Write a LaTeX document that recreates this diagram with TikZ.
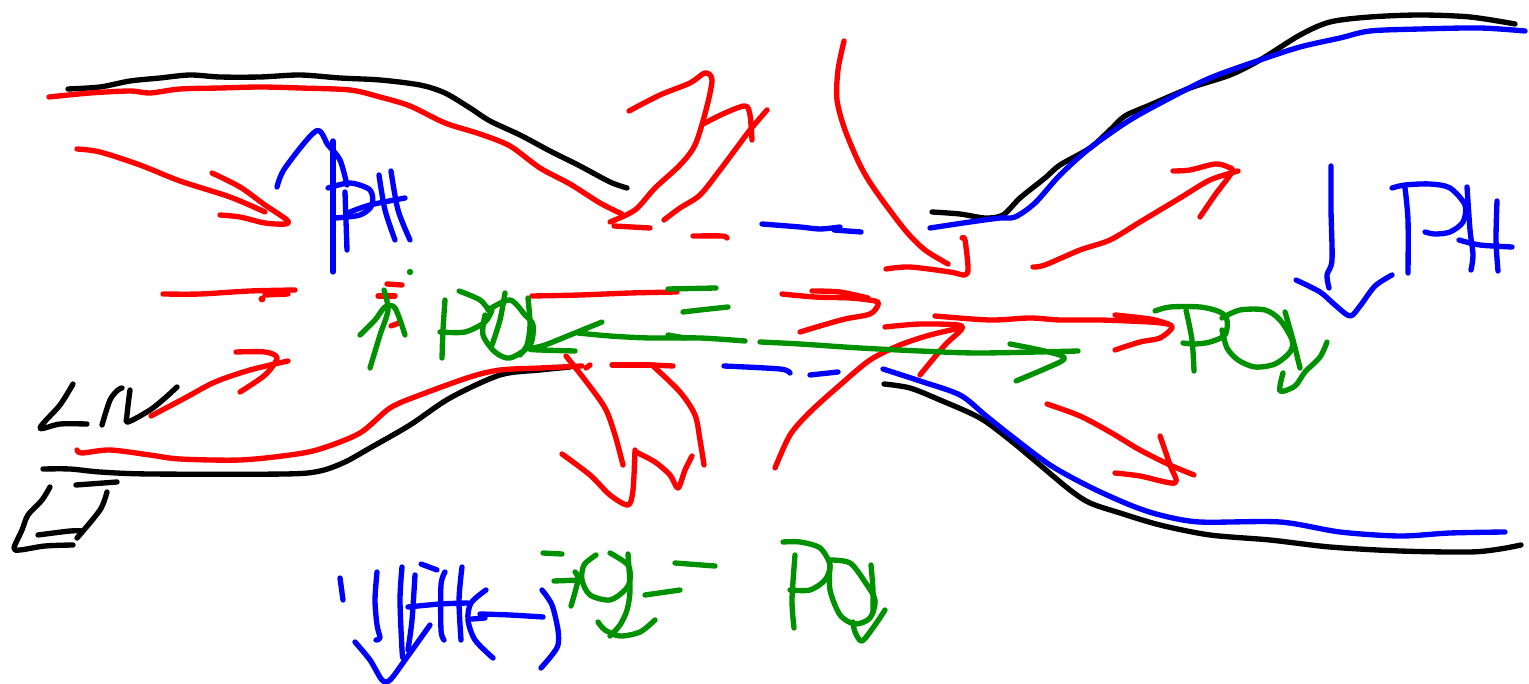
\documentclass[tikz,border=0pt]{standalone}
\definecolor{inkred}{RGB}{255,0,0}
\definecolor{inkblue}{RGB}{0,0,255}
\definecolor{inkgreen}{RGB}{0,145,0}
\newcommand{\stroke}[2]{\draw[#1] plot[smooth,tension=0.5] coordinates {#2};}
\tikzset{ink/.style={line width=4pt,line cap=round,line join=round},
 bk/.style={ink,black}, rd/.style={ink,inkred}, bl/.style={ink,inkblue}, gr/.style={ink,inkgreen}}
\begin{document}
\begin{tikzpicture}[x=0.75pt,y=-0.75pt]
\useasboundingbox (0,0) rectangle (1529,684);
\fill[white] (0,0) rectangle (1529,684);
% black channel walls and letters
\stroke{bk}{(68,89)(100,87)(130,81)(160,78)(190,75)(220,77)(260,77)(300,75)(340,78)(380,80)(420,85)(445,93)(470,108)(490,121)(520,135)(550,151)(580,166)(610,182)(627,188)}
\stroke{bk}{(932,212)(960,214)(985,218)(1003,215)(1020,198)(1045,178)(1060,165)(1090,148)(1110,130)(1125,116)(1150,105)(1190,88)(1230,75)(1260,60)(1300,35)(1330,22)(1370,17)(1420,15)(1470,17)(1515,24)}
\stroke{bk}{(43,469)(70,469)(100,472)(150,474)(285,474)(320,471)(345,462)(370,448)(410,425)(450,398)(500,375)(540,370)(570,367)}
\stroke{bk}{(884,384)(910,388)(940,400)(980,418)(1010,440)(1040,465)(1070,490)(1090,503)(1120,513)(1160,525)(1210,535)(1270,540)(1330,547)(1400,551)(1470,552)(1500,549)(1521,545)}
\stroke{bk}{(73,384)(60,405)(40,428)(60,424)(87,424)}
\stroke{bk}{(102,425)(110,400)(118,390)(122,388)}
\stroke{bk}{(130,390)(127,415)(128,422)(150,410)(165,398)(177,387)}
\stroke{bk}{(50,487)(42,500)(28,515)(22,530)(14,548)(20,550)(45,546)(73,545)}
\stroke{bk}{(38,535)(70,531)(82,531)}
\stroke{bk}{(76,485)(117,482)}
\stroke{bk}{(107,492)(100,510)(77,538)}
% blue
\stroke{bl}{(930,228)(970,222)(1000,218)(1015,217)(1035,203)(1060,175)(1090,148)(1130,120)(1170,98)(1210,78)(1260,60)(1300,47)(1340,38)(1370,31)(1420,29)(1480,28)(1525,31)}
\stroke{bl}{(883,369)(920,381)(960,395)(985,415)(1010,435)(1050,465)(1090,487)(1130,505)(1160,515)(1200,522)(1280,522)(1340,532)(1400,536)(1450,533)(1505,532)}
\stroke{bl}{(1331,166)(1331,210)(1332,260)(1327,275)(1329,288)}
\stroke{bl}{(1296,280)(1320,292)(1335,305)(1350,316)(1360,306)(1375,286)(1392,275)}
\stroke{bl}{(1392,188)(1405,185)(1430,184)(1450,188)(1465,205)(1463,222)(1450,232)(1435,234)(1425,232)}
\stroke{bl}{(1405,188)(1408,220)(1408,273)}
\stroke{bl}{(1467,187)(1470,230)(1473,255)(1471,270)}
\stroke{bl}{(1497,201)(1496,240)(1498,271)}
\stroke{bl}{(1459,240)(1480,245)(1512,247)}
\stroke{bl}{(277,187)(285,168)(316,131)(328,145)(340,160)(347,185)}
\stroke{bl}{(333,141)(333,272)}
\stroke{bl}{(328,188)(350,183)(370,190)(372,205)(360,215)(335,218)}
\stroke{bl}{(345,192)(347,250)}
\stroke{bl}{(379,175)(385,210)(395,240)}
\stroke{bl}{(391,171)(398,210)(410,240)}
\stroke{bl}{(350,212)(370,205)(405,198)}
\stroke{bl}{(762,224)(800,227)(820,229)(840,227)}
\stroke{bl}{(834,230)(861,232)}
\stroke{bl}{(724,366)(780,369)(790,373)}
\stroke{bl}{(810,375)(838,372)}
\stroke{bl}{(340,578)(343,600)}
\stroke{bl}{(377,572)(375,600)(377,625)(380,638)(376,640)}
\stroke{bl}{(355,642)(370,660)(382,680)(390,680)(405,660)(430,625)}
\stroke{bl}{(402,567)(400,600)(402,650)(403,658)}
\stroke{bl}{(415,575)(412,620)(408,650)}
\stroke{bl}{(421,564)(437,570)}
\stroke{bl}{(445,572)(441,585)(441,630)(444,640)}
\stroke{bl}{(462,567)(459,600)(461,640)}
\stroke{bl}{(408,607)(440,604)(468,603)}
\stroke{bl}{(486,590)(471,603)(468,620)(475,640)(493,658)}
\stroke{bl}{(472,619)(485,618)}
\stroke{bl}{(480,614)(510,615)(543,617)}
\stroke{bl}{(542,590)(552,605)(558,630)(558,645)(552,655)(541,668)}
% red
\stroke{rd}{(49,97)(90,93)(130,91)(150,93)(180,89)(220,88)(260,87)(300,88)(350,90)(380,97)(410,106)(445,123)(480,134)(510,146)(540,168)(570,184)(600,203)(622,214)}
\stroke{rd}{(629,111)(660,95)(690,83)(705,73)(712,80)(706,110)(695,145)(680,165)(655,188)(635,210)(610,222)}
\stroke{rd}{(664,220)(680,208)(700,195)(720,170)(735,150)(750,130)(767,110)}
\stroke{rd}{(703,124)(725,113)(745,106)(750,115)(752,140)}
\stroke{rd}{(614,226)(650,228)}
\stroke{rd}{(693,236)(722,236)(727,238)}
\stroke{rd}{(844,41)(838,70)(837,100)(845,130)(860,165)(875,190)(905,230)(925,250)(948,264)}
\stroke{rd}{(886,269)(910,267)(950,272)(965,275)(968,268)(965,240)(962,238)}
\stroke{rd}{(1033,267)(1045,265)(1080,250)(1110,240)(1140,222)(1180,198)(1210,180)(1238,171)}
\stroke{rd}{(1173,171)(1190,170)(1215,164)(1228,167)(1232,172)(1215,195)(1200,217)}
\stroke{rd}{(935,316)(990,320)(1030,318)(1060,320)(1100,320)(1150,322)(1168,324)}
\stroke{rd}{(1115,315)(1150,319)(1168,324)(1172,328)(1160,338)(1140,342)(1115,350)}
\stroke{rd}{(782,294)(815,297)(850,298)(875,301)(878,305)(870,314)(845,319)(820,326)(800,332)}
\stroke{rd}{(812,291)(840,292)(868,298)}
\stroke{rd}{(885,327)(920,324)(958,325)(961,330)(945,345)(920,375)}
\stroke{rd}{(775,468)(790,435)(810,412)(840,385)(870,360)(900,345)(930,335)(960,328)}
\stroke{rd}{(532,296)(580,295)(630,293)(677,292)}
\stroke{rd}{(77,450)(82,453)(110,450)(150,455)(180,459)(240,460)(290,455)(320,449)(360,433)(390,408)(420,395)(470,377)(500,370)(540,368)(582,366)}
\stroke{rd}{(566,356)(585,380)(605,408)(615,435)(623,465)}
\stroke{rd}{(562,454)(590,475)(610,495)(628,505)(633,490)(635,450)}
\stroke{rd}{(652,365)(680,392)(695,415)(700,440)(704,465)}
\stroke{rd}{(636,452)(655,462)(670,475)(678,488)(685,470)(692,456)}
\stroke{rd}{(586,368)(590,365)}
\stroke{rd}{(612,365)(650,365)}
\stroke{rd}{(652,365)(673,366)}
\stroke{rd}{(1047,404)(1080,416)(1110,432)(1140,450)(1170,465)(1194,475)}
\stroke{rd}{(1115,473)(1140,476)(1175,483)(1170,465)(1160,436)}
\stroke{rd}{(77,149)(100,152)(140,165)(180,181)(230,197)(265,212)}
\stroke{rd}{(212,173)(240,187)(265,205)(287,220)(285,224)(265,223)(240,217)(220,215)}
\stroke{rd}{(163,294)(200,294)(250,291)(295,290)}
\stroke{rd}{(265,295)(288,294)}
\fill[inkred] (262,299) circle (2.6pt);
\stroke{rd}{(151,416)(185,398)(215,382)(250,370)(288,361)}
\stroke{rd}{(236,352)(265,352)(277,358)(265,375)(240,392)}
\stroke{rd}{(387,284)(402,285)}
\stroke{rd}{(378,296)(395,296)}
\stroke{rd}{(391,326)(399,323)}
% green
\stroke{gr}{(1186,310)(1192,340)(1194,371)}
\stroke{gr}{(1155,311)(1170,307)(1200,307)(1220,312)(1227,320)(1225,335)(1210,342)(1195,344)(1183,343)}
\stroke{gr}{(1222,318)(1240,310)(1265,310)(1280,320)(1292,340)(1290,352)(1275,364)(1255,367)(1238,360)(1227,348)(1222,330)}
\stroke{gr}{(1285,312)(1293,340)(1300,368)}
\stroke{gr}{(1327,342)(1320,357)(1305,372)(1295,386)(1280,391)(1283,373)}
\stroke{gr}{(578,333)(610,336)(650,338)(700,338)(745,341)}
\stroke{gr}{(760,342)(800,344)(860,348)(920,351)(980,353)(1078,351)}
\stroke{gr}{(1010,344)(1040,350)(1062,356)(1060,362)(1016,381)}
\stroke{gr}{(668,335)(685,338)}
\stroke{gr}{(602,322)(570,335)(545,345)(530,349)(540,350)(575,351)}
\stroke{gr}{(668,289)(716,288)}
\stroke{gr}{(683,312)(700,310)(728,307)}
\stroke{gr}{(384,290)(388,310)(380,335)(370,368)}
\stroke{gr}{(360,335)(375,320)(385,307)(395,308)(405,335)}
\fill[inkgreen] (410,272) circle (2.4pt);
\stroke{gr}{(445,300)(443,330)(442,358)}
\stroke{gr}{(459,291)(480,300)(490,312)}
\stroke{gr}{(440,332)(465,332)(485,322)(492,310)}
\stroke{gr}{(488,310)(510,300)(525,315)(533,325)(530,345)(510,358)(495,352)(483,335)(485,315)}
\stroke{gr}{(505,293)(500,320)(492,345)}
\stroke{gr}{(528,298)(530,325)(527,345)(520,355)}
\stroke{gr}{(543,553)(562,554)}
\stroke{gr}{(554,581)(580,580)}
\stroke{gr}{(575,572)(578,580)(571,606)}
\stroke{gr}{(596,555)(584,565)(582,580)(590,595)(610,600)(625,590)(630,580)(628,565)(610,553)}
\stroke{gr}{(628,554)(630,590)(627,610)(620,625)(610,636)}
\stroke{gr}{(598,622)(605,630)(620,636)(640,632)(655,620)}
\stroke{gr}{(645,595)(680,590)}
\stroke{gr}{(675,563)(715,566)}
\stroke{gr}{(783,542)(800,542)(820,548)(830,565)(825,580)(810,590)(790,590)}
\stroke{gr}{(795,555)(792,600)(794,628)}
\stroke{gr}{(830,560)(850,563)(865,582)(875,600)(870,618)(855,624)(840,615)(830,590)(830,565)}
\stroke{gr}{(871,565)(873,590)(873,612)}
\stroke{gr}{(885,610)(875,625)(862,641)(855,632)(853,622)}
\end{tikzpicture}
\end{document}
